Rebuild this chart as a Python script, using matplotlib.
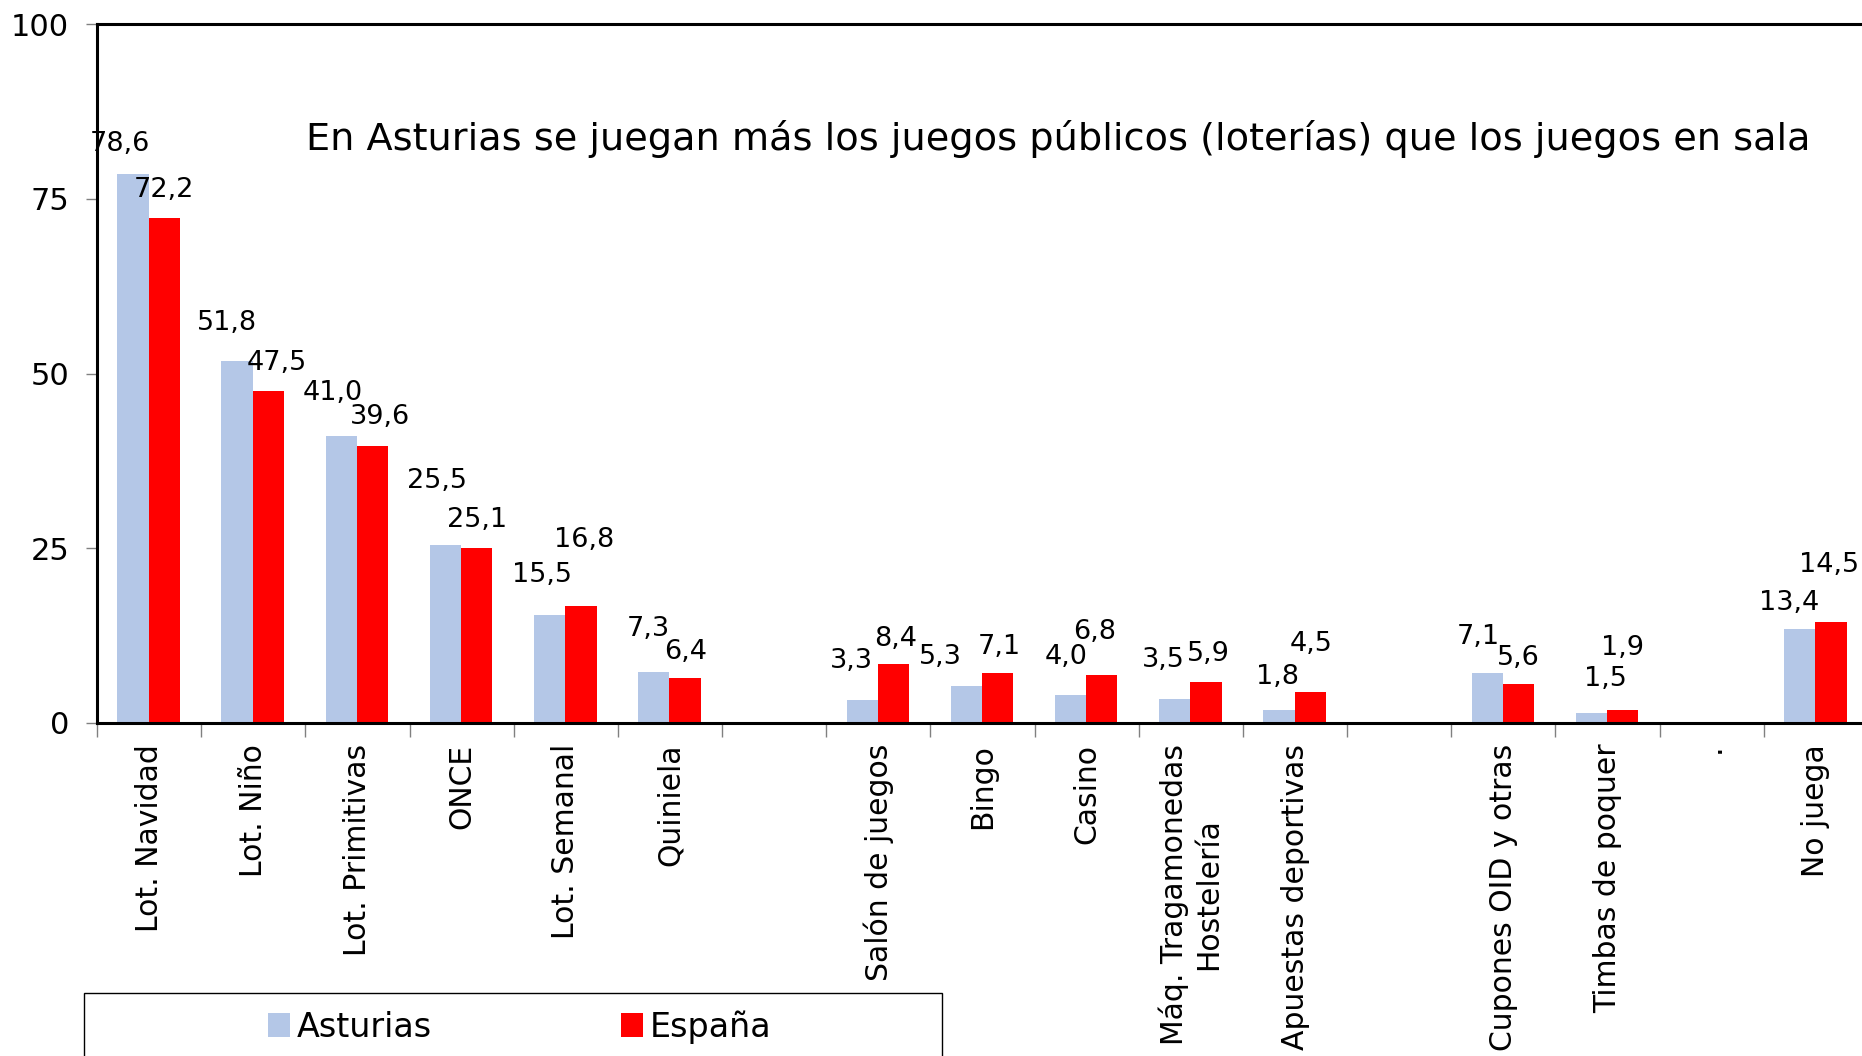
import numpy as np
import matplotlib
matplotlib.use("Agg")
import matplotlib.pyplot as plt
from matplotlib.patches import Patch, Rectangle

categories = [
    "Lot. Navidad", "Lot. Niño", "Lot. Primitivas", "ONCE", "Lot. Semanal",
    "Quiniela", "", "Salón de juegos", "Bingo", "Casino",
    "Máq. Tragamonedas\nHostelería", "Apuestas deportivas", "",
    "Cupones OID y otras", "Timbas de poquer", ".", "No juega",
]
asturias = [78.6, 51.8, 41.0, 25.5, 15.5, 7.3, None, 3.3, 5.3, 4.0, 3.5, 1.8,
            None, 7.1, 1.5, None, 13.4]
espana = [72.2, 47.5, 39.6, 25.1, 16.8, 6.4, None, 8.4, 7.1, 6.8, 5.9, 4.5,
          None, 5.6, 1.9, None, 14.5]
series_names = ["Asturias", "España"]
title = "En Asturias se juegan más los juegos públicos (loterías) que los juegos en sala"

# label offsets (pixels) from the top centre of each bar, as placed in the original
ast_off = [(-13, 30), (-10, 38), (-9, 43), (-8, 64), (-8, 40), (-6, 43), None,
           (-11, 39), (-26, 29), (-4, 38), (-11, 39), (-1, 33), None,
           (-9, 36), (14, 34), None, (-11, 26)]
esp_off = [(0, 28), (8, 28), (7, 29), (0, 28), (3, 66), (1, 26), None,
           (2, 25), (2, 26), (-7, 43), (2, 28), (1, 48), None,
           (0, 26), (0, 62), None, (-2, 57)]

W, H = 1862, 1056
fig = plt.figure(figsize=(W / 100, H / 100), dpi=100)
ax = fig.add_axes([97 / W, (H - 723) / H, (1868 - 97) / W, (723 - 24) / H])

x = np.arange(len(categories))
width = 0.30
for vals, offs, dx, color in [(asturias, ast_off, -0.155, "#b4c7e7"),
                              (espana, esp_off, 0.145, "#ff0000")]:
    for i, v in enumerate(vals):
        if v is None:
            continue
        ax.bar(x[i] + dx, v, width, color=color, zorder=2)
        label = f"{v:.1f}".replace(".", ",")
        ax.annotate(label, (x[i] + dx, v), xytext=offs[i],
                    textcoords="offset pixels", ha="center", va="center",
                    fontsize=19.5)

ax.set_xlim(-0.5, len(categories) - 0.5)
ax.set_ylim(0, 100)
ax.set_yticks([0, 25, 50, 75, 100])
ax.tick_params(axis="y", direction="out", length=8, width=1, color="#808080",
               labelsize=22, pad=12)
ax.set_xticks(x)
ax.set_xticklabels(categories, rotation=90, fontsize=21.5, va="top",
                   ha="center", multialignment="center")
ax.set_xticks(np.arange(-0.5, len(categories)), minor=True)
ax.tick_params(axis="x", which="major", length=0, pad=15)
ax.tick_params(axis="x", which="minor", direction="out", length=10, width=1,
               color="#808080")
for s in ax.spines.values():
    s.set_linewidth(2.2)
    s.set_color("black")
    s.set_zorder(3)

fig.text(306 / W, 1 - 139 / H, title, ha="left", va="center", fontsize=27.5)

handles = [Patch(facecolor="#b4c7e7"), Patch(facecolor="#ff0000")]
fig.legend(handles, series_names, loc="center left",
           bbox_to_anchor=(238 / W, 1 - 1027 / H), ncol=2, frameon=False,
           fontsize=24, handlelength=0.65, handleheight=0.75,
           handletextpad=0.2, columnspacing=5.7)
fig.add_artist(Rectangle((84 / W, -0.05), (942 - 84) / W, 0.05 + (H - 993) / H,
                         transform=fig.transFigure, fill=False,
                         edgecolor="black", lw=1))

fig.savefig("out.png", dpi=100)
